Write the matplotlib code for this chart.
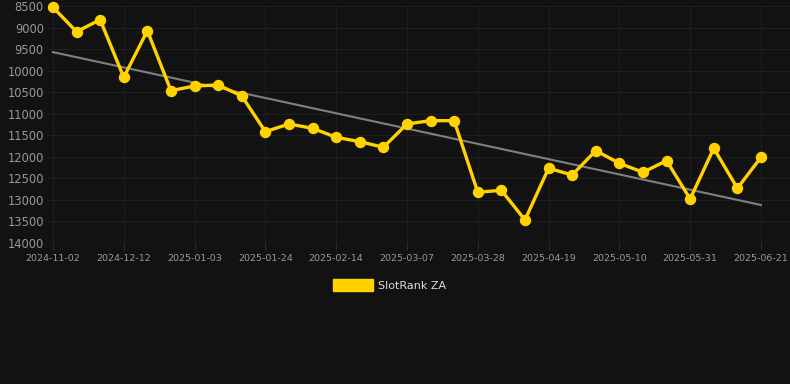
import numpy as np
import matplotlib.pyplot as plt

# weekly rank values (y axis is inverted, lower is better)
rank = [8530, 9096, 8818, 10155, 9073, 10465, 10356, 10333, 10588, 11416,
        11238, 11338, 11547, 11648, 11779, 11238, 11161, 11161, 12823, 12777,
        13465, 12266, 12421, 11857, 12150, 12359, 12089, 12978, 11802, 12730,
        12011]
tick_labels = ['2024-11-02', '2024-12-12', '2025-01-03', '2025-01-24', '2025-02-14',
               '2025-03-07', '2025-03-28', '2025-04-19', '2025-05-10', '2025-05-31',
               '2025-06-21']
y_ticks = [8500, 9000, 9500, 10000, 10500, 11000, 11500, 12000, 12500, 13000, 13500, 14000]

bg = '#121212'
x = np.arange(len(rank))

fig = plt.figure(figsize=(7.9, 3.84), dpi=100, facecolor=bg)
ax = fig.add_axes([48 / 790, 1 - 243 / 384, 1 - 48 / 790, 237 / 384], facecolor=bg)

# linear trend
k, b = np.polyfit(x, rank, 1)
ax.plot(x, k * x + b, color='#808080', lw=1.5, zorder=2)

ax.plot(x, rank, color='#FFD200', lw=2.4, marker='o', ms=7.2, zorder=3,
        clip_on=False, label='SlotRank ZA')

ax.set_ylim(14000, 8500)
ax.set_xlim(-0.21, 31.23)
ax.set_yticks(y_ticks)
ax.set_xticks(x[::3])
ax.set_xticklabels(tick_labels)

ax.grid(True, color='#1e1e1e', lw=0.8)
for s in ax.spines.values():
    s.set_visible(False)
ax.axhline(14000, color='#2a2a2a', lw=1)
ax.tick_params(axis='y', length=0, labelsize=8.3, colors='#999999', pad=3)
ax.tick_params(axis='x', length=5, color='#2a2a2a', labelsize=6.8, labelcolor='#999999', pad=3)

leg = fig.legend(handles=[plt.Rectangle((0, 0), 1, 1, color='#FFD200')],
                 labels=['SlotRank ZA'], loc='center', bbox_to_anchor=(389.5 / 790, 1 - 285 / 384),
                 frameon=False, fontsize=8, handlelength=3.6, handleheight=1.2,
                 handletextpad=0.5)
for t in leg.get_texts():
    t.set_color('#dddddd')

fig.savefig('out.png', dpi=100, facecolor=bg)
